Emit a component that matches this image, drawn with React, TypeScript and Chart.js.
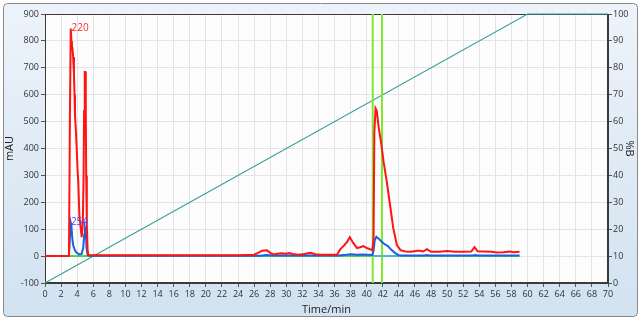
import React, { useEffect, useRef } from 'react';
import { Chart, registerables } from 'chart.js';

Chart.register(...registerables);

// Chromatogram traces: [time (min), absorbance (mAU)]
const red220: [number, number][] = [
  [0, 0], [2.98, 0], [3.1, 520], [3.2, 846], [3.28, 800], [3.35, 780], [3.42, 770], [3.5, 740],
  [3.6, 680], [3.67, 600], [3.73, 524], [3.85, 460], [3.94, 400], [4.05, 320], [4.14, 276],
  [4.27, 152], [4.44, 104], [4.56, 70], [4.7, 120], [4.8, 300], [4.86, 540], [4.92, 545],
  [4.97, 684], [5.02, 684], [5.07, 540], [5.12, 300], [5.2, 120], [5.3, 20], [5.4, 3],
  [10, 3], [20, 3], [24, 3], [26, 5], [26.5, 12], [27, 20], [27.6, 22], [28, 12], [28.4, 6],
  [28.9, 9], [29.4, 11], [29.9, 9], [30.4, 11], [30.8, 8], [31.5, 5], [32.3, 8], [33, 12],
  [33.6, 7], [34.3, 5], [36.3, 5], [36.7, 25], [37.2, 40], [37.6, 55], [37.9, 70], [38.3, 50],
  [38.8, 30], [39.2, 33], [39.6, 37], [40.0, 30], [40.4, 26], [40.7, 22], [40.85, 60],
  [40.95, 460], [41.1, 549], [41.25, 540], [41.5, 476], [41.8, 420], [42.1, 350], [42.5, 276],
  [42.9, 190], [43.3, 104], [43.75, 41], [44.2, 22], [44.8, 17], [45.5, 16], [46.3, 20],
  [46.6, 20], [47.0, 17], [47.5, 26], [48.0, 16], [49.0, 16], [50.0, 19], [51.0, 16],
  [52.0, 16], [53.0, 17], [53.4, 33], [53.8, 18], [54.5, 17], [55.5, 16], [56.2, 13],
  [57.0, 14], [57.8, 17], [58.2, 14], [59, 16],
];

const blue254: [number, number][] = [
  [0, 0], [2.98, 0], [3.08, 60], [3.18, 127], [3.28, 115], [3.38, 70], [3.5, 40], [3.65, 28],
  [3.85, 15], [4.05, 10], [4.3, 6], [4.55, 8], [4.75, 30], [4.88, 80], [4.97, 104], [5.07, 90],
  [5.17, 30], [5.3, 4], [5.5, 1], [20, 1], [26.8, 1], [27.5, 4], [28.2, 2], [36.5, 2],
  [37.5, 5], [38, 7], [38.8, 5], [39.6, 6], [40.7, 4], [40.85, 20], [41.0, 60], [41.2, 72],
  [41.5, 65], [41.8, 55], [42.2, 45], [42.6, 38], [43.0, 25], [43.5, 12], [44.0, 3],
  [44.5, 2], [47.2, 2], [47.5, 4], [47.8, 2], [53.2, 2], [53.5, 4], [53.8, 2], [59, 2],
];

const lightBlueTrace: [number, number][] = [[40.8, 0.5], [44.3, 0.5]];
const greenBaseline: [number, number][] = [[0, 0], [59, 0]];

// Gradient program: [time (min), %B]
const gradientB: [number, number][] = [[0, 0], [60, 100], [70, 100]];

// Fraction markers (min)
const markerTimes: number[] = [40.75, 41.9];

// Peak labels
const labelTexts: string[] = ['220', '254'];
const labelTimes: number[] = [3.3, 3.22];
const labelValues: number[] = [846, 127];
const labelColors: string[] = ['#ff2a2a', '#4848ff'];

const toXY = (a: [number, number][]) => a.map(([x, y]) => ({ x, y }));

export default function App() {
  const ref = useRef<HTMLCanvasElement>(null);

  useEffect(() => {
    const canvas = ref.current!;
    const bgPlugin = {
      id: 'panelBg',
      beforeDraw(chart: any) {
        const c = chart.ctx;
        const { width, height, chartArea: a } = chart;
        c.save();
        c.fillStyle = '#ffffff';
        c.fillRect(0, 0, width, height);
        const g = c.createLinearGradient(0, 4, 0, 316);
        g.addColorStop(0, '#edf3fa');
        g.addColorStop(1, '#d2e2f1');
        c.beginPath();
        if ((c as any).roundRect) (c as any).roundRect(3.5, 3.5, 634, 313, 4);
        else c.rect(3.5, 3.5, 634, 313);
        c.fillStyle = g;
        c.fill();
        c.strokeStyle = '#8a8a8a';
        c.lineWidth = 1;
        c.stroke();
        c.fillStyle = '#fdfdfd';
        c.fillRect(a.left, a.top, a.right - a.left, a.bottom - a.top);
        c.restore();
      },
      beforeDatasetsDraw(chart: any) {
        const c = chart.ctx;
        const a = chart.chartArea;
        c.save();
        c.strokeStyle = '#3a3a3a';
        c.lineWidth = 1;
        c.strokeRect(Math.round(a.left) + 0.5, Math.round(a.top) + 0.5, Math.round(a.right - a.left) - 1, Math.round(a.bottom - a.top) - 1);
        c.restore();
      },
      afterDatasetsDraw(chart: any) {
        const c = chart.ctx;
        const xs = chart.scales.x;
        const ys = chart.scales.y;
        c.save();
        c.font = '10px "Open Sans"';
        c.textAlign = 'left';
        c.textBaseline = 'middle';
        labelTexts.forEach((t, i) => {
          c.fillStyle = labelColors[i];
          c.fillText(t, xs.getPixelForValue(labelTimes[i]), ys.getPixelForValue(labelValues[i]));
        });
        c.restore();
      },
    };

    const tickFont = { family: '"Open Sans"', size: 9 };
    const titleFont = { family: '"Open Sans"', size: 11 };

    const markerSets = markerTimes.map((t) => ({
      data: [{ x: t, y: -100 }, { x: t, y: 900 }],
      borderColor: '#7ee830',
      borderWidth: 2,
      pointRadius: 0,
      yAxisID: 'y',
    }));

    const chart = new Chart(canvas, {
      type: 'line',
      data: {
        datasets: [
          { data: toXY(red220), borderColor: '#ff1414', borderWidth: 2, pointRadius: 0, yAxisID: 'y' },
          { data: toXY(blue254), borderColor: '#1c5fe0', borderWidth: 2, pointRadius: 0, yAxisID: 'y' },
          { data: toXY(lightBlueTrace), borderColor: '#4aa8ff', borderWidth: 1.5, pointRadius: 0, yAxisID: 'y' },
          ...markerSets,
          { data: toXY(greenBaseline), borderColor: '#22c422', borderWidth: 1.5, pointRadius: 0, yAxisID: 'y' },
          { data: toXY(gradientB), borderColor: '#3aa09e', borderWidth: 1.2, pointRadius: 0, yAxisID: 'y2', clip: 2 },
        ] as any,
      },
      options: {
        responsive: false,
        animation: false,
        parsing: false as any,
        layout: { padding: { top: 14, left: 0, right: 0, bottom: 0 } },
        plugins: { legend: { display: false }, tooltip: { enabled: false } },
        elements: { line: { tension: 0 } },
        scales: {
          x: {
            type: 'linear',
            min: 0,
            max: 70,
            ticks: { stepSize: 2, autoSkip: false, maxRotation: 0, color: '#333', font: tickFont, padding: 2 },
            grid: { color: '#e4e4e4', tickColor: '#555', tickLength: 4 },
            border: { display: true, color: '#3a3a3a' },
            title: { display: true, text: 'Time/min', color: '#222', font: titleFont, padding: { top: 0, bottom: 4 } },
            afterFit: (s: any) => { s.height = 37; },
          },
          y: {
            position: 'left',
            min: -100,
            max: 900,
            ticks: { stepSize: 100, color: '#333', font: tickFont, padding: 2 },
            grid: { color: '#e4e4e4', tickColor: '#555', tickLength: 4 },
            border: { display: true, color: '#3a3a3a' },
            title: { display: true, text: 'mAU', color: '#222', font: titleFont, padding: { top: 3, bottom: 0 } },
            afterFit: (s: any) => { s.width = 45; },
          },
          y2: {
            position: 'right',
            min: 0,
            max: 100,
            ticks: { stepSize: 10, color: '#333', font: tickFont, padding: 1 },
            grid: { drawOnChartArea: false, tickColor: '#555', tickLength: 4 },
            border: { display: true, color: '#3a3a3a' },
            title: { display: true, text: '%B', color: '#222', font: titleFont, padding: { top: 5, bottom: 0 } },
            afterFit: (s: any) => { s.width = 33; },
          },
        } as any,
      },
      plugins: [bgPlugin],
    });
    return () => chart.destroy();
  }, []);

  return (
    <div style={{ position: 'fixed', left: 0, top: 0, width: 641, height: 320 }}>
      <canvas ref={ref} width={641} height={320} style={{ display: 'block', width: 641, height: 320 }} />
    </div>
  );
}
